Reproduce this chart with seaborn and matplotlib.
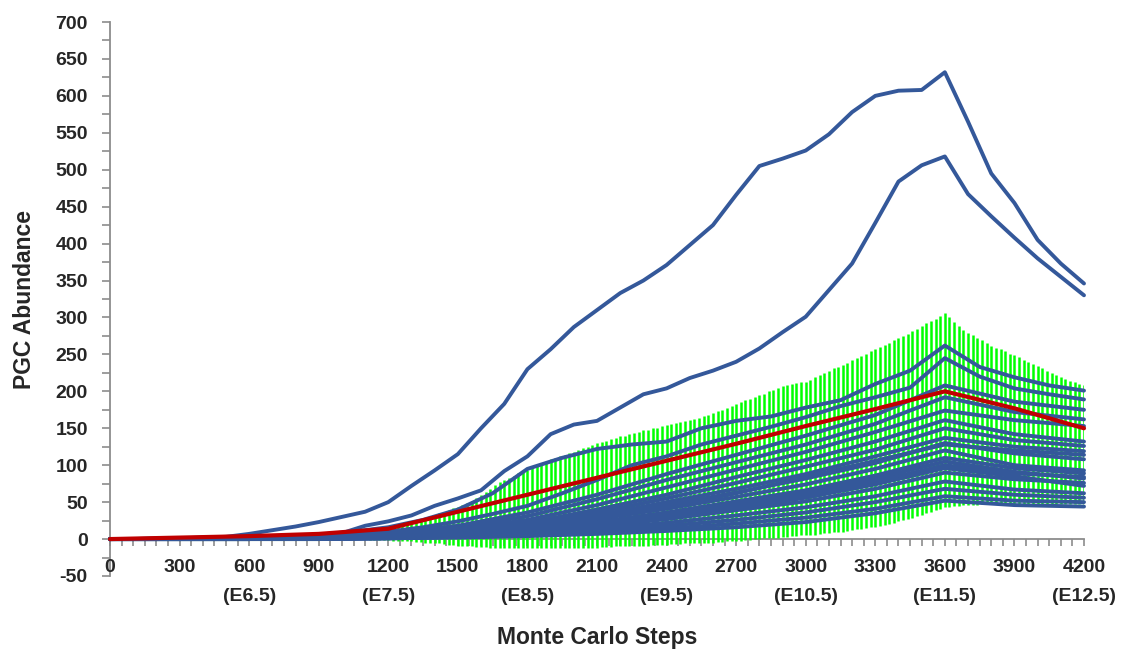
import matplotlib
matplotlib.use("Agg")
import matplotlib.pyplot as plt
import seaborn as sns
import pandas as pd
from matplotlib.ticker import MultipleLocator, FixedLocator

# ---------------- data ----------------
coarse_steps = list(range(0, 4201, 300))
mid_steps = list(range(0, 4201, 150))
fine_steps = list(range(0, 4201, 100))
bar_steps = list(range(0, 4201, 20))

x_tick_values = list(range(0, 4201, 300))
x_tick_labels = ["0", "300", "600\n(E6.5)", "900", "1200\n(E7.5)", "1500",
                 "1800\n(E8.5)", "2100", "2400\n(E9.5)", "2700",
                 "3000\n(E10.5)", "3300", "3600\n(E11.5)", "3900",
                 "4200\n(E12.5)"]

# two outlier runs (every 100 steps)
run01 = [0, 0, 1, 1, 2, 3, 7, 12, 17, 23, 30, 37, 50, 72, 93, 115, 150, 183,
         230, 257, 287, 310, 333, 350, 371, 398, 425, 466, 505, 515, 526, 548,
         578, 600, 607, 608, 632, 565, 495, 455, 405, 373, 346]
run02 = [0, 0, 0, 1, 1, 1, 2, 2, 2, 3, 8, 18, 24, 32, 45, 55, 66, 92, 112,
         142, 155, 160, 178, 196, 204, 218, 228, 240, 258, 280, 301, 337, 373,
         428, 484, 506, 518, 467, 437, 408, 380, 355, 330]

# two upper bundle runs (every 150 steps)
run03 = [0, 0, 0, 1, 2, 4, 6, 10, 16, 26, 40, 62, 95, 110, 122, 128, 132,
         150, 160, 166, 178, 188, 210, 228, 262, 233, 219, 208, 201]
run04 = [0, 0, 0, 1, 1, 2, 4, 6, 10, 16, 24, 34, 45, 62, 80, 100, 112, 128,
         140, 152, 165, 180, 192, 205, 245, 220, 204, 196, 189]

# remaining bundle runs (every 300 steps)
run05 = [0, 0, 1, 3, 8, 18, 36, 60, 88, 114, 140, 168, 208, 186, 175]
run06 = [0, 0, 1, 3, 7, 15, 31, 54, 80, 104, 128, 156, 192, 172, 162]
run07 = [0, 0, 1, 2, 6, 13, 26, 46, 70, 94, 118, 145, 174, 161, 153]
run08 = [0, 0, 0, 2, 5, 11, 22, 40, 60, 84, 107, 132, 161, 142, 132]
run09 = [0, 0, 0, 2, 5, 10, 20, 36, 55, 76, 98, 121, 150, 134, 126]
run10 = [0, 0, 0, 1, 4, 9, 18, 32, 50, 68, 88, 112, 137, 125, 119]
run11 = [0, 0, 0, 1, 4, 8, 17, 30, 46, 63, 82, 103, 130, 116, 108]
run12 = [0, 0, 0, 1, 3, 7, 15, 27, 41, 57, 74, 95, 120, 100, 93]
run13 = [0, 0, 0, 1, 3, 6, 13, 23, 36, 51, 66, 86, 110, 96, 89]
run14 = [0, 0, 0, 1, 2, 5, 11, 20, 31, 45, 59, 78, 100, 89, 84]
run15 = [0, 0, 0, 1, 2, 4, 9, 17, 27, 39, 51, 68, 90, 81, 76]
run16 = [0, 0, 0, 0, 2, 4, 8, 14, 22, 32, 43, 58, 78, 67, 62]
run17 = [0, 0, 0, 0, 1, 3, 6, 11, 18, 26, 36, 50, 68, 60, 56]
run18 = [0, 0, 0, 0, 1, 3, 5, 9, 14, 21, 29, 41, 58, 52, 50]
run19 = [0, 0, 0, 0, 1, 2, 4, 7, 11, 16, 23, 35, 52, 46, 44]
run20 = [0, 0, 0, 1, 3, 8, 16, 28, 44, 62, 84, 106, 128, 120, 114]
run21 = [0, 0, 0, 1, 2, 5, 12, 22, 34, 48, 62, 82, 105, 91, 82]
run22 = [0, 0, 0, 0, 2, 4, 10, 19, 30, 42, 56, 74, 96, 85, 72]

mean_run = [0, 2, 4, 7, 14, 37, 60, 83, 106, 129, 153, 176, 200, 177, 150]

# error band (every 20 steps): upper and lower ends of the green bars
bar_hi = [
    0, 0, 0, 1, 1, 1, 1, 1, 1, 1, 2, 2, 2, 2, 2, 2, 2, 2, 3, 3,
    3, 3, 3, 3, 4, 4, 4, 4, 5, 5,
    5, 5, 5, 6, 6, 6, 6, 6, 7, 7, 7, 7, 7, 8, 8, 8, 8, 9, 9, 9,
    10, 10, 10, 11, 11, 12, 13, 14, 15, 16,
    18, 19, 20, 21, 22, 24, 25, 27, 29, 31, 33, 35, 37, 39, 42, 44, 46, 49,
    52, 56, 60, 64, 68, 73, 77, 80, 83, 86, 89, 91,
    94, 97, 100, 103, 105, 108, 110, 112, 114, 116, 118, 120, 123, 125, 128,
    130, 132, 133, 135, 137, 139, 140, 142, 143, 145, 147, 148, 150, 151, 153,
    155, 156, 157, 159, 160, 161, 163, 164, 166, 168, 170, 173, 175, 178,
    180, 183, 185, 188, 190, 193, 195, 197, 200, 202, 205, 207, 208, 210,
    211, 212,
    213, 216, 219, 222, 225, 228, 231, 233, 236, 239, 242, 245, 248, 251,
    254, 257, 260, 263, 266, 269, 272, 275, 278, 282, 285, 289, 292, 295,
    298, 302,
    306, 300, 294, 288, 283, 279, 276, 272, 269, 265, 262, 259, 257, 254,
    251, 249, 246, 243, 240, 237, 234, 231, 228, 225, 222, 219, 217, 214,
    212, 210, 208]
bar_lo = [
    0] * 30 + [0] * 25 + [0, -1, -1, -1, -1] + [
    -1, -2, -2, -2, -3, -3, -4, -4, -5, -5, -6, -6, -7, -8, -8, -9, -9, -10,
    -10, -11, -11, -11, -12, -12, -12, -12, -12, -12, -12, -12,
    -12, -12, -12, -12, -12, -12, -12, -12, -12, -12, -12, -12, -12, -12,
    -12, -12, -11, -11, -11, -10, -10, -10, -10, -9, -9, -9, -9, -8, -8, -8,
    -8, -7, -7, -7, -6, -6, -6, -6, -5, -5, -5, -4, -4, -3, -3, -2, -2, -1,
    -1, 0, 0, 1, 1, 2, 2, 3, 3, 4, 4, 5,
    5, 6, 6, 7, 8, 8, 9, 10, 10, 11, 12, 13, 14, 15, 16, 17, 18, 19, 21, 22,
    24, 26, 27, 29, 31, 33, 35, 37, 39, 41,
    43, 44, 45, 45, 46, 46, 46, 46, 47, 47, 47, 47, 47, 47, 47, 47, 47, 47,
    47, 47, 47, 47, 47, 47, 47, 47, 47, 47, 47, 47, 47]

# ---------------- style ----------------
sns.set_theme(style="white")
plt.rcParams["font.family"] = ["Liberation Sans", "DejaVu Sans"]
plt.rcParams["font.weight"] = "bold"
plt.rcParams["axes.unicode_minus"] = False

BLUE = "#34589A"
RED = "#C00000"
GREEN = "#00FF00"
GREY = "#8C8C8C"

fig = plt.figure(figsize=(11.29, 6.54), dpi=100)
ax = fig.add_axes([110 / 1129, 1 - 576 / 654, 974 / 1129, 554 / 654])

# green bars
ax.vlines(bar_steps, bar_lo, bar_hi, colors=GREEN, linewidth=1.8, zorder=1)

# blue runs
rows = []
for name, vals in [("run01", run01), ("run02", run02)]:
    rows += [(name, s, v) for s, v in zip(fine_steps, vals)]
for name, vals in [("run03", run03), ("run04", run04)]:
    rows += [(name, s, v) for s, v in zip(mid_steps, vals)]
bundle = [run05, run06, run07, run08, run09, run10, run11, run12, run13,
          run14, run15, run16, run17, run18, run19, run20, run21, run22]
for i, vals in enumerate(bundle):
    rows += [(f"b{i}", s, v) for s, v in zip(coarse_steps, vals)]
df = pd.DataFrame(rows, columns=["run", "step", "value"])
sns.lineplot(data=df, x="step", y="value", units="run", estimator=None,
             color=BLUE, linewidth=2.8, ax=ax, zorder=2, sort=False)

# red mean
dm = pd.DataFrame({"step": coarse_steps, "value": mean_run})
sns.lineplot(data=dm, x="step", y="value", color=RED, linewidth=3.0, ax=ax,
             zorder=3)

for ln in ax.lines:
    ln.set_clip_on(False)
    ln.set_solid_joinstyle("round")

# ---------------- axes ----------------
ax.set_xlim(0, 4200)
ax.set_ylim(-50, 700)
ax.spines["top"].set_visible(False)
ax.spines["right"].set_visible(False)
ax.spines["bottom"].set_position(("data", 0))
for sp in ("left", "bottom"):
    ax.spines[sp].set_color(GREY)
    ax.spines[sp].set_linewidth(1.3)
    ax.spines[sp].set_zorder(0.5)

ax.xaxis.set_major_locator(FixedLocator(x_tick_values))
ax.set_xticklabels(x_tick_labels)
ax.xaxis.set_minor_locator(MultipleLocator(50))
ax.yaxis.set_major_locator(MultipleLocator(50))
ax.yaxis.set_minor_locator(MultipleLocator(25))

ax.tick_params(axis="both", which="both", direction="out", color=GREY,
               width=1.2, bottom=True, left=True)
ax.tick_params(axis="x", which="both", length=5)
ax.tick_params(axis="y", which="both", length=6)
ax.tick_params(axis="x", which="major", labelsize=14, pad=9)
ax.tick_params(axis="y", which="major", labelsize=14, pad=10)
for t in ax.get_xticklabels():
    t.set_fontweight("bold")
    t.set_linespacing(1.95)
for t in ax.get_yticklabels():
    t.set_fontweight("bold")

ax.set_xlabel("Monte Carlo Steps", fontsize=16.5, fontweight="bold",
              labelpad=15)
ax.set_ylabel("PGC Abundance", fontsize=16.5, fontweight="bold", labelpad=14)
ax.grid(False)

fig.savefig("out.png", dpi=100)
